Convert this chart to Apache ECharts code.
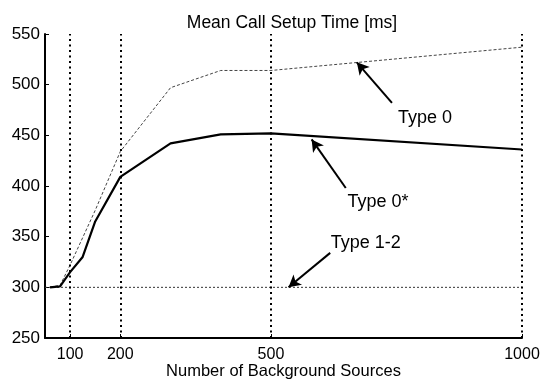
<!DOCTYPE html>
<html><head><meta charset="utf-8">
<script src="https://cdn.jsdelivr.net/npm/echarts@6/dist/echarts.min.js"></script>
<style>html,body{margin:0;padding:0;background:#fff}#c{width:548px;height:380px}</style>
</head><body><div id="c"></div>
<script>
// ---- data ----
const type0Star = [[60,300],[80,301],[100,315],[125,330],[150,365],[200,409],[300,442],[400,451],[500,452],[1000,436]];
const type0 = [[60,300],[80,302],[100,322],[150,376],[200,434],[300,497],[400,514],[500,514],[1000,537]];
const type12 = [[50,300],[1000,300]];
const xTickValues = [100, 200, 500, 1000];
const titleText = 'Mean Call Setup Time [ms]';
const xAxisTitle = 'Number of Background Sources';
// annotation texts and arrows (data coords)
const annoTexts = ['Type 0', 'Type 0*', 'Type 1-2'];
const annoTextAt = [[807,467],[713,384],[689,344]];
const annoArrowFrom = [[741,482],[649,398],[618,334]];
const annoArrowTo = [[671,522],[581,446],[535,300]];

const FONT = '"Liberation Sans", Arial, Helvetica, sans-serif';
const chart = echarts.init(document.getElementById('c'), null, {renderer:'canvas'});
chart.setOption({
  backgroundColor: '#fff',
  animation: false,
  title: { text: titleText, left: 287, top: 9, textAlign: 'center',
    textStyle: { fontFamily: FONT, fontSize: 17.5, fontWeight: 'normal', color: '#000' } },
  grid: { left: 45, right: 26, top: 34, bottom: 42, containLabel: false, outerBoundsMode: 'none' },
  xAxis: {
    type: 'value', min: 50, max: 1000,
    name: xAxisTitle, nameLocation: 'middle', nameGap: 25, nameMoveOverlap: false,
    nameTextStyle: { fontFamily: FONT, fontSize: 16.5, color: '#000' },
    axisLine: { show: true, lineStyle: { color: '#000', width: 2 } },
    axisTick: { show: true, inside: true, length: 4, customValues: xTickValues, lineStyle: { color: '#000' } },
    axisLabel: { customValues: xTickValues, formatter: v => String(v), fontFamily: FONT, fontSize: 16, color: '#000', margin: 9 },
    splitLine: { show: false }
  },
  yAxis: {
    type: 'value', min: 250, max: 550, interval: 50,
    axisLine: { show: true, lineStyle: { color: '#000', width: 2 } },
    axisTick: { show: true, inside: true, length: 4, lineStyle: { color: '#000' } },
    axisLabel: { formatter: v => String(v), fontFamily: FONT, fontSize: 17, color: '#000', margin: 5 },
    splitLine: { show: false }
  },
  series: [
    { name: 'Type 1-2', type: 'line', data: type12, symbol: 'none',
      lineStyle: { color: '#333', width: 1, type: [2, 2] },
      markLine: { silent: true, symbol: 'none', label: { show: false },
        lineStyle: { color: '#000', width: 2, type: [2, 3.5] },
        data: xTickValues.map(v => ({ xAxis: v })) } },
    { name: 'Type 0', type: 'line', data: type0, symbol: 'none',
      lineStyle: { color: '#444', width: 1, type: [3, 2] } },
    { name: 'Type 0*', type: 'line', data: type0Star, symbol: 'none',
      lineStyle: { color: '#000', width: 2.2 },
      markLine: { silent: true, symbol: ['none', 'arrow'], symbolSize: [10, 12],
        label: { show: false }, lineStyle: { color: '#000', width: 2, type: 'solid' },
        data: annoArrowFrom.map((f, i) => [{ coord: f }, { coord: annoArrowTo[i] }]) },
      markPoint: { silent: true, symbol: 'circle', symbolSize: 0,
        label: { show: true, position: 'inside', fontFamily: FONT, fontSize: 18, color: '#000',
          formatter: p => p.name },
        data: annoTexts.map((t, i) => ({ name: t, coord: annoTextAt[i] })) } }
  ]
});
</script></body></html>
